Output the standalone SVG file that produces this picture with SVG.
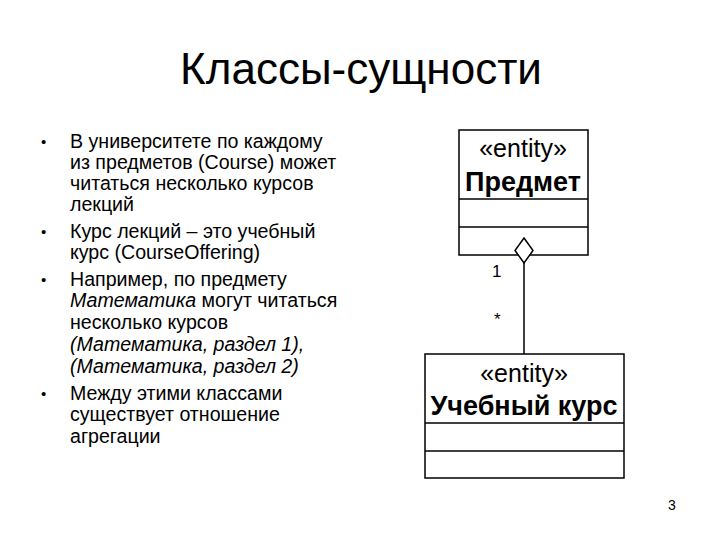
<svg xmlns="http://www.w3.org/2000/svg" width="720" height="540" viewBox="0 0 720 540">
<style>
text{font-family:"Liberation Sans",Arial,sans-serif;fill:#000}
.t{font-size:44px}
.b{font-size:19.6px}
.d{font-size:15px}
.st{font-size:25px;text-anchor:middle}
.nm{font-size:27px;font-weight:bold;text-anchor:middle}
.box{fill:#fff;stroke:#000;stroke-width:1.5}
.ln{stroke:#000;stroke-width:1.5;fill:none}
.m{font-size:17px}
</style>
<rect width="720" height="540" fill="#fff"/>
<text class="t" x="361" y="84" text-anchor="middle">Классы-сущности</text>
<g id="bullets">
<text class="d" x="41" y="147">•</text>
<text class="b" x="70" y="148">В университете по каждому</text>
<text class="b" x="70" y="169">из предметов (Course) может</text>
<text class="b" x="70" y="190">читаться несколько курсов</text>
<text class="b" x="70" y="211">лекций</text>
<text class="d" x="41" y="237">•</text>
<text class="b" x="70" y="238">Курс лекций – это учебный</text>
<text class="b" x="70" y="259">курс (CourseOffering)</text>
<text class="d" x="41" y="285">•</text>
<text class="b" x="70" y="286">Например, по предмету</text>
<text class="b" x="70" y="307"><tspan font-style="italic">Математика</tspan> могут читаться</text>
<text class="b" x="70" y="329">несколько курсов</text>
<text class="b" x="70" y="351" font-style="italic">(Математика, раздел 1),</text>
<text class="b" x="70" y="373" font-style="italic">(Математика, раздел 2)</text>
<text class="d" x="41" y="399">•</text>
<text class="b" x="70" y="400">Между этими классами</text>
<text class="b" x="70" y="421">существует отношение</text>
<text class="b" x="70" y="443">агрегации</text>
</g>
<g id="connectors">
<line class="ln" x1="524" y1="263" x2="524" y2="354"/>
<text class="m" x="492" y="277">1</text>
<text class="m" x="494" y="325">*</text>
</g>
<g id="predmet">
<rect class="box" x="459" y="130" width="129" height="125"/>
<line class="ln" x1="459" y1="199" x2="588" y2="199"/>
<line class="ln" x1="459" y1="227" x2="588" y2="227"/>
<text class="st" x="523" y="157">«entity»</text>
<text class="nm" x="523" y="191">Предмет</text>
<polygon class="box" points="524,238 533,250.5 524,263 515,250.5"/>
</g>
<g id="kurs">
<rect class="box" x="425" y="354" width="199" height="124"/>
<line class="ln" x1="425" y1="423" x2="624" y2="423"/>
<line class="ln" x1="425" y1="451" x2="624" y2="451"/>
<text class="st" x="524" y="382">«entity»</text>
<text class="nm" x="524" y="415">Учебный курс</text>
</g>
<text x="672" y="510" font-size="14" text-anchor="middle">3</text>
</svg>
